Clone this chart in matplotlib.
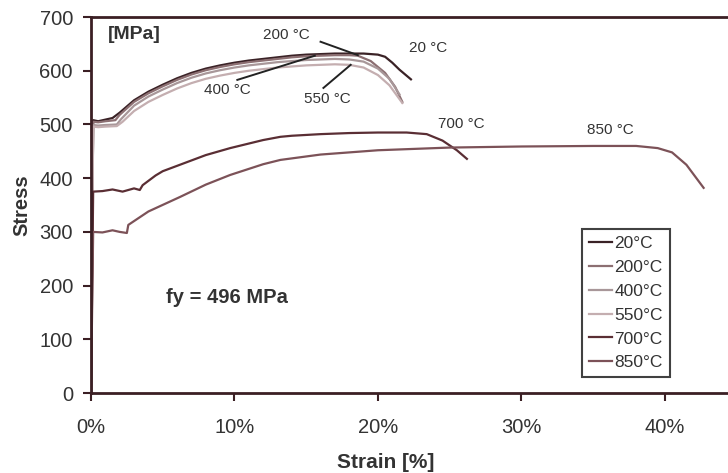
import numpy as np
import matplotlib
matplotlib.use("Agg")
from matplotlib import pyplot as plt

plt.rcParams['font.family'] = ['Liberation Sans', 'DejaVu Sans']

# strain [%] / stress [MPa]
strain_20 = [0, 0.15, 0.5, 1.0, 1.5, 2.0, 3, 4, 5, 6, 7, 8, 9, 10, 11, 12, 13, 14, 15, 16, 17, 18, 19, 20, 20.5, 21, 21.5, 22.3]
stress_20 = [0, 508, 506, 509, 512, 522, 545, 561, 574, 586, 596, 604, 610, 615, 619, 622, 625, 628, 630, 631, 632, 632, 632, 630, 626, 615, 602, 584]

strain_200 = [0, 0.15, 0.5, 1.0, 1.7, 2.0, 3, 4, 5, 6, 7, 8, 9, 10, 11, 12, 13, 14, 15, 16, 17, 18, 18.6, 19.5, 20.5, 21.2, 21.7]
stress_200 = [0, 505, 504, 506, 508, 518, 542, 558, 571, 583, 593, 601, 607, 612, 616, 619, 622, 625, 627, 628, 629, 629, 628, 618, 596, 570, 542]

strain_400 = [0, 0.15, 0.5, 1.0, 1.8, 2.1, 3, 4, 5, 6, 7, 8, 9, 10, 11, 12, 13, 14, 15, 16, 17, 18, 19, 20, 20.8, 21.5]
stress_400 = [0, 499, 498, 499, 500, 510, 535, 552, 565, 577, 587, 595, 601, 606, 610, 613, 616, 618, 620, 621, 622, 621, 617, 604, 585, 556]

strain_550 = [0, 0.15, 0.5, 1.0, 1.8, 2.2, 3, 4, 5, 6, 7, 8, 9, 10, 11, 12, 13, 14, 15, 16, 17, 18, 19, 20, 20.8, 21.7]
stress_550 = [0, 496, 495, 496, 497, 505, 525, 542, 555, 567, 577, 585, 591, 596, 600, 603, 606, 608, 610, 611, 612, 611, 606, 592, 573, 540]

strain_700 = [0, 0.15, 0.8, 1.5, 2.2, 3.0, 3.4, 3.6, 4.5, 5, 6.2, 8, 9.7, 12, 13.2, 14, 16, 18, 20, 22, 23.4, 24.5, 25.5, 26.2]
stress_700 = [0, 375, 376, 379, 375, 381, 378, 387, 405, 413, 425, 443, 456, 471, 477, 479, 482, 484, 485, 485, 482, 470, 452, 436]

strain_850 = [0, 0.15, 0.8, 1.5, 2.0, 2.5, 2.6, 4, 6.2, 8, 9.7, 12, 13.2, 16, 20, 25, 30, 35, 38, 39.5, 40.5, 41.5, 42.7]
stress_850 = [0, 300, 299, 303, 300, 298, 313, 338, 365, 388, 406, 426, 434, 444, 452, 457, 459, 460, 460, 456, 448, 425, 382]

labels = ["20°C", "200°C", "400°C", "550°C", "700°C", "850°C"]
colors = ["#3a2226", "#8c6f72", "#a89799", "#c4aeb0", "#5a2e34", "#7c5258"]

fig = plt.figure(figsize=(7.28, 4.73), dpi=100)
ax = fig.add_axes([0.125, 0.169, 0.875, 0.795])

series = [(strain_20, stress_20), (strain_200, stress_200), (strain_400, stress_400),
          (strain_550, stress_550), (strain_700, stress_700), (strain_850, stress_850)]
for (x, y), lab, c in zip(series, labels, colors):
    ax.plot(x, y, color=c, lw=1.6, label=lab)

ax.set_xlim(0, 44.4)
ax.set_ylim(0, 700)
ax.set_xticks([0, 10, 20, 30, 40])
ax.set_xticklabels(["0%", "10%", "20%", "30%", "40%"])
ax.set_yticks(range(0, 701, 100))

dark = "#3b1f24"
for s in ["left", "bottom", "top"]:
    ax.spines[s].set_color(dark)
    ax.spines[s].set_linewidth(2)
ax.spines["right"].set_visible(False)
ax.tick_params(axis="both", direction="out", length=6, width=1.5, color=dark,
               labelsize=14.5, labelcolor="#333333")
ax.tick_params(axis="x", pad=12)
ax.tick_params(axis="y", pad=7)

ax.set_ylabel("Stress", fontsize=14.5, fontweight="bold", color="#333333")
ax.yaxis.set_label_coords(-0.094, 0.5)
ax.set_xlabel("Strain [%]", fontsize=15, fontweight="bold", color="#333333")
ax.xaxis.set_label_coords(0.462, -0.16)

ax.text(3.0, 667, "[MPa]", fontsize=14, fontweight="bold", color="#333333", ha="center", va="center")
ax.text(9.5, 177, "fy = 496 MPa", fontsize=14.5, fontweight="bold", color="#333333", ha="center", va="center")

# curve labels with pointer lines
ann = dict(fontsize=11, color="#333333", ha="center", va="center")
ax.text(13.6, 667, "200 °C", **ann)
ax.plot([16.0, 18.6], [654, 629], color="#222222", lw=1.4)
ax.text(9.5, 564, "400 °C", **ann)
ax.plot([10.2, 15.6], [583, 628], color="#222222", lw=1.4)
ax.text(16.5, 547, "550 °C", **ann)
ax.plot([16.2, 18.1], [568, 611], color="#222222", lw=1.4)
ax.text(23.5, 642, "20 °C", **ann)
ax.text(25.8, 501, "700 °C", **ann)
ax.text(36.2, 490, "850 °C", **ann)

leg = ax.legend(loc="upper left", bbox_to_anchor=(0.771, 0.436), borderaxespad=0,
                fontsize=12.5, frameon=True, fancybox=False, handlelength=1.3,
                handletextpad=0.15, labelspacing=0.5, borderpad=0.4)
leg.get_frame().set_edgecolor("#111111")
leg.get_frame().set_linewidth(1.5)
for t in leg.get_texts():
    t.set_color("#333333")

fig.savefig("out.png", dpi=100)
plt.close()
